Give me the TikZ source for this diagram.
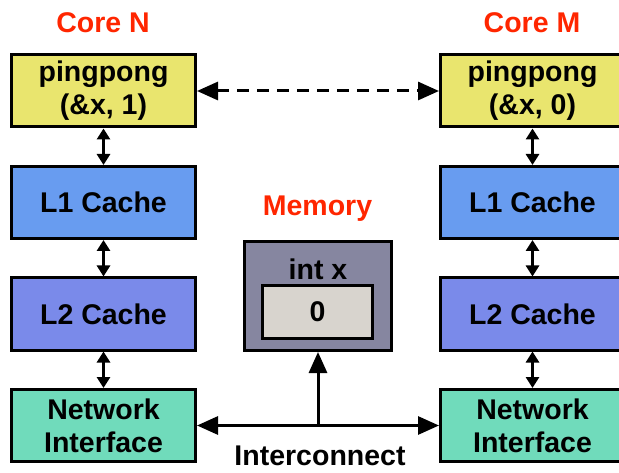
\documentclass[tikz,border=0pt]{standalone}
\usepackage{fontspec}
\setmainfont{Liberation Sans}
\usetikzlibrary{arrows.meta}
\definecolor{pingfill}{RGB}{233,229,110}
\definecolor{lonefill}{RGB}{104,156,240}
\definecolor{ltwofill}{RGB}{122,138,234}
\definecolor{nifill}{RGB}{112,219,187}
\definecolor{memfill}{RGB}{134,134,160}
\definecolor{cellfill}{RGB}{216,212,206}
\definecolor{titlered}{RGB}{255,38,0}
\begin{document}
\begin{tikzpicture}[x=1pt,y=1pt]
    \tikzset{
        unit/.style={draw, line width=3pt, minimum width=184pt, minimum height=72pt,
            inner sep=0pt, align=center, font=\bfseries\fontsize{28.5}{33}\selectfont},
        title/.style={text=titlered, anchor=base, font=\bfseries\fontsize{28.5}{33}\selectfont},
        plain/.style={anchor=base, inner sep=0pt, font=\bfseries\fontsize{28.5}{33}\selectfont},
        link/.style={{Triangle[length=11pt,width=13pt]}-{Triangle[length=11pt,width=13pt]}, line width=3pt},
        bus/.style={{Triangle[length=21pt,width=18pt]}-{Triangle[length=21pt,width=18pt]}, line width=3pt}
    }
    \clip (0,0) rectangle (619,472);

    \draw node[title] (coreN) at (103,439) {Core N};
    \draw node[title] (coreM) at (532,439) {Core M};

    \draw node[unit, fill=pingfill] (pN) at (103.5,381) {pingpong\\(\&x, 1)};
    \draw node[unit, fill=lonefill] (lN) at (103.5,269.5) {L1 Cache};
    \draw node[unit, fill=ltwofill] (mN) at (103.5,158) {L2 Cache};
    \draw node[unit, fill=nifill] (nN) at (103.5,46.5) {Network\\Interface};

    \draw node[unit, fill=pingfill] (pM) at (532.5,381) {pingpong\\(\&x, 0)};
    \draw node[unit, fill=lonefill] (lM) at (532.5,269.5) {L1 Cache};
    \draw node[unit, fill=ltwofill] (mM) at (532.5,158) {L2 Cache};
    \draw node[unit, fill=nifill] (nM) at (532.5,46.5) {Network\\Interface};

    % memory
    \draw node[title] (memtitle) at (317.5,256) {Memory};
    \draw node[unit, fill=memfill, minimum width=147pt, minimum height=109pt] (mem) at (318,176) {};
    \draw node[plain] (varx) at (318,193) {int x};
    \draw node[unit, fill=cellfill, minimum width=110pt, minimum height=53pt] (cell) at (317.5,160) {0};

    \foreach \x/\y in {%
        pN/lN,lN/mN,mN/nN,pM/lM,lM/mM,mM/nM%
    }{
        \draw[link] (\x) -- (\y);
    }
    \draw[bus, dash pattern=on 12pt off 8pt] (pN) -- (pM);

    % interconnect
    \draw[bus] (nN) -- (nM);
    \coordinate (tap) at (318,47);
    \draw[-{Triangle[length=21pt,width=18pt]}, line width=3pt] (tap) -- (tap |- mem.south);
    \draw node[plain] (bus) at (320,6.5) {Interconnect};
\end{tikzpicture}
\end{document}
